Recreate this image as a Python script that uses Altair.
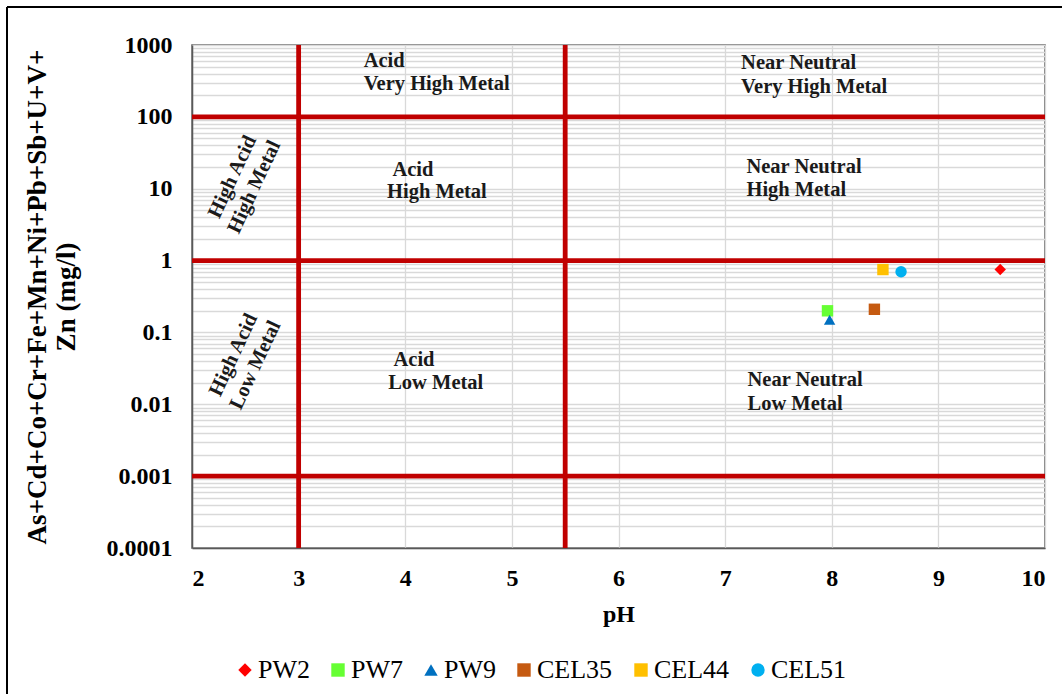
import altair as alt
import pandas as pd

# Sample points: pH and summed dissolved metals (mg/l)
samples = ["PW2", "PW7", "PW9", "CEL35", "CEL44", "CEL51"]
sample_ph = [9.58, 7.96, 7.98, 8.40, 8.48, 8.65]
sample_metal = [0.75, 0.20, 0.15, 0.21, 0.75, 0.70]
sample_colors = ["#FF0000", "#66FF33", "#0070C0", "#C55A11", "#FFC000", "#00B0F0"]
sample_shapes = ["diamond", "square", "triangle-up", "square", "square", "circle"]

# Ficklin field boundaries
boundary_ph = [3, 5.5]
boundary_metal = [100, 1, 0.001]

# Field names (one row per text line, anchored in data space)
field_text = ["Acid", "Very High Metal", "Near Neutral", "Very High Metal",
              "Acid", "High Metal", "Near Neutral", "High Metal",
              "Acid", "Low Metal", "Near Neutral", "Low Metal"]
field_ph = [3.61, 3.61, 7.15, 7.15,
            3.88, 3.83, 7.20, 7.20,
            3.89, 3.84, 7.21, 7.21]
field_metal = [599, 287, 562, 260,
               18.2, 9.0, 20.0, 9.6,
               0.0413, 0.0198, 0.0218, 0.0101]

# Rotated labels in the high-acid strip
strip_text = ["High Acid\nHigh Metal", "High Acid\nLow Metal"]
strip_ph = [2.38, 2.39]
strip_metal = [14.6, 0.0486]

x_ticks = [2, 3, 4, 5, 6, 7, 8, 9, 10]
y_grid = [k * 10.0 ** e for e in range(-4, 3) for k in range(1, 10)] + [1000]

FONT = "Liberation Serif"
W, H = 853, 503

x_scale = alt.Scale(domain=[2, 10], nice=False, zero=False)
y_scale = alt.Scale(type="log", domain=[0.0001, 1000], nice=False)

x_axis = alt.Axis(values=x_ticks, format="d", grid=True, title="pH",
                  labelFont=FONT, labelFontSize=24, labelFontWeight="bold",
                  labelPadding=18, titlePadding=12)
y_axis = alt.Axis(
    values=y_grid, format="~g", grid=True, labelPadding=20,
    labelFont=FONT, labelFontSize=24, labelFontWeight="bold",
    labelExpr="abs(log(datum.value)/LN10 - round(log(datum.value)/LN10)) < 1e-6 ? datum.label : ''",
    title=["As+Cd+Co+Cr+Fe+Mn+Ni+Pb+Sb+U+V+", "Zn (mg/l)"],
    titleFontSize=27,
    titleX=-168, titleY=H / 2, titleAlign="center", titleBaseline="top",
    titleLineHeight=29,
)

pts = pd.DataFrame({"sample": samples, "ph": sample_ph, "metal": sample_metal})
vdf = pd.DataFrame({"ph": boundary_ph})
hdf = pd.DataFrame({"metal": boundary_metal})
fdf = pd.DataFrame({"text": field_text, "ph": field_ph, "metal": field_metal})
sdf = pd.DataFrame({"text": strip_text, "ph": strip_ph, "metal": strip_metal})

base_axes = alt.Chart(pts).mark_point(opacity=0).encode(
    x=alt.X("ph:Q", scale=x_scale, axis=x_axis),
    y=alt.Y("metal:Q", scale=y_scale, axis=y_axis),
)

red = "#C00000"
vlines = alt.Chart(vdf).mark_rule(color=red, strokeWidth=4.8).encode(
    x=alt.X("ph:Q", scale=x_scale)
)
hlines = alt.Chart(hdf).mark_rule(color=red, strokeWidth=4.8).encode(
    y=alt.Y("metal:Q", scale=y_scale)
)

fields = alt.Chart(fdf).mark_text(
    align="left", baseline="middle", font=FONT, fontWeight="bold", fontSize=20.5, color="#1a1a1a"
).encode(x=alt.X("ph:Q", scale=x_scale), y=alt.Y("metal:Q", scale=y_scale), text="text:N")

strips = alt.Chart(sdf).transform_calculate(
    lines="split(datum.text, '\\n')"
).mark_text(
    align="center", baseline="middle", font=FONT, fontWeight="bold", fontSize=20.5,
    color="#1a1a1a", angle=295, lineHeight=24
).encode(x=alt.X("ph:Q", scale=x_scale), y=alt.Y("metal:Q", scale=y_scale), text="lines:N")

points = alt.Chart(pts).mark_point(filled=True, opacity=1, size=130).encode(
    x=alt.X("ph:Q", scale=x_scale),
    y=alt.Y("metal:Q", scale=y_scale),
    color=alt.Color("sample:N", scale=alt.Scale(domain=samples, range=sample_colors),
                    legend=alt.Legend(title=None, orient="none", direction="horizontal",
                                      legendX=40, legendY=109 + H, columns=6,
                                      labelFont=FONT, labelFontSize=26)),
    shape=alt.Shape("sample:N", scale=alt.Scale(domain=samples, range=sample_shapes)),
)

# Outer chart border
border_l = alt.Chart(pts).mark_rule(color="#000000", strokeWidth=1.5, clip=False).encode(
    x=alt.value(-185), y=alt.value(-38), y2=alt.value(H + 200)
)
border_t = alt.Chart(pts).mark_rule(color="#000000", strokeWidth=1.5, clip=False).encode(
    x=alt.value(-185), x2=alt.value(W + 200), y=alt.value(-38)
)

chart = alt.layer(
    base_axes, vlines, hlines, fields, strips, points, border_l, border_t
).properties(
    width=W, height=H,
    autosize=alt.AutoSizeParams(type="none"),
    padding={"left": 192, "top": 45, "right": 17, "bottom": 146},
    background="white",
).configure(
    font=FONT
).configure_view(
    stroke="#595959", strokeWidth=1.5
).configure_axis(
    labelFont=FONT, labelFontSize=24, labelFontWeight="bold", labelColor="#000000",
    titleFont=FONT, titleFontSize=24, titleFontWeight="bold", titleColor="#000000",
    domainColor="#595959", domainWidth=1.5, ticks=False,
    gridColor="#d9d9d9", gridWidth=1.3,
).configure_legend(
    labelFont=FONT, labelFontSize=26, labelColor="#000000", padding=0,
    symbolSize=180, symbolStrokeWidth=0, columnPadding=15, labelOffset=0,
)

chart.save("out.html", embed_options={"renderer": "svg", "actions": False})
